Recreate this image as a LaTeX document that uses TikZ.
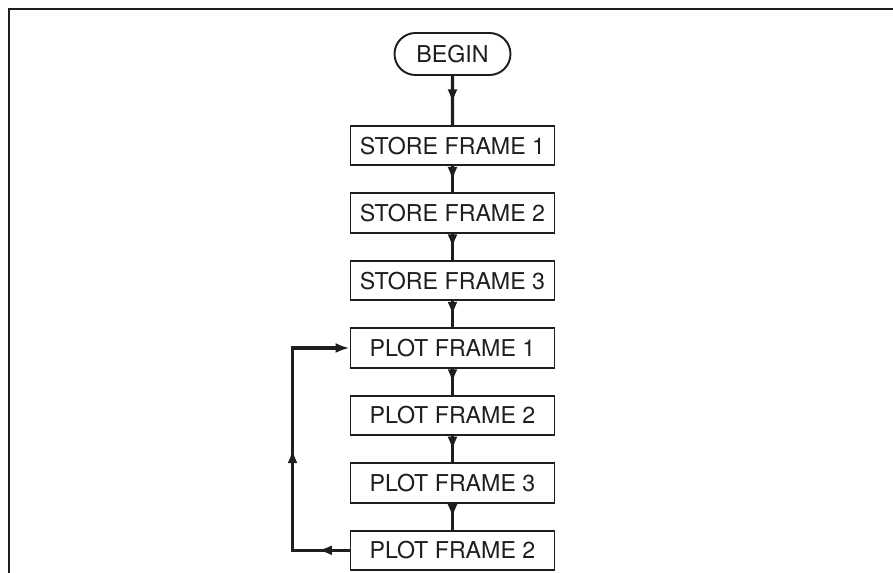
\documentclass[tikz,border=0pt]{standalone}
\usepackage{fontspec}
\setmainfont{TeX Gyre Heros}
\usepackage{tikz}
\usetikzlibrary{arrows.meta,positioning,shapes.misc,decorations.markings}
\definecolor{Ink}{HTML}{1E1E1E}
\tikzset{
  box/.style={draw=Ink,fill=white,line width=1.1pt,minimum width=4.08cm,minimum height=.79cm,inner sep=0pt,font=\fontsize{13.2}{15}\selectfont,text=Ink},
  terminal/.style={rounded rectangle,draw=Ink,fill=white,line width=1.1pt,minimum width=2.32cm,minimum height=.84cm,inner sep=0pt,font=\fontsize{13.2}{15}\selectfont,text=Ink},
  midflow/.style={draw=Ink,line width=1.8pt,postaction={decorate},decoration={markings,mark=at position .56 with {\arrow{Latex[length=2.8mm,width=2mm]}}}},
  loopflow/.style={-{Latex[length=2.8mm,width=2mm]},draw=Ink,line width=1.8pt,postaction={decorate},decoration={markings,mark=at position .1 with {\arrow{Latex[length=2.8mm,width=2mm]}},mark=at position .5 with {\arrow{Latex[length=2.8mm,width=2mm]}}}},
  frameline/.style={draw=Ink,line width=1.4pt}
}
\begin{document}
\begin{tikzpicture}[node distance=.52cm]
  \useasboundingbox (0,0) rectangle (17.86,-11.46);
  \draw[frameline] (.18,-11.46) -- (.18,-.18) -- (17.86,-.18);
  \node[terminal] (begin) at (9.05,-1.08) {BEGIN};
  \node[box,below=.98cm of begin] (storea) {STORE FRAME 1};
  \node[box,below=of storea] (storeb) {STORE FRAME 2};
  \node[box,below=of storeb] (storec) {STORE FRAME 3};
  \node[box,below=of storec] (plota) {PLOT FRAME 1};
  \node[box,below=of plota] (plotb) {PLOT FRAME 2};
  \node[box,below=of plotb] (plotc) {PLOT FRAME 3};
  \node[box,below=of plotc] (plotd) {PLOT FRAME 2};
  \draw[midflow] (begin) -- (storea);
  \draw[midflow] (storea) -- (storeb);
  \draw[midflow] (storeb) -- (storec);
  \draw[midflow] (storec) -- (plota);
  \draw[midflow] (plota) -- (plotb);
  \draw[midflow] (plotb) -- (plotc);
  \draw[midflow] (plotc) -- (plotd);
  % loop back to the first plot
  \coordinate[left=1.14cm of plotd.west] (loopbot);
  \coordinate (looptop) at (loopbot |- plota.west);
  \draw[loopflow] (plotd.west) -- (loopbot) -- (looptop) -- (plota.west);
\end{tikzpicture}
\end{document}
